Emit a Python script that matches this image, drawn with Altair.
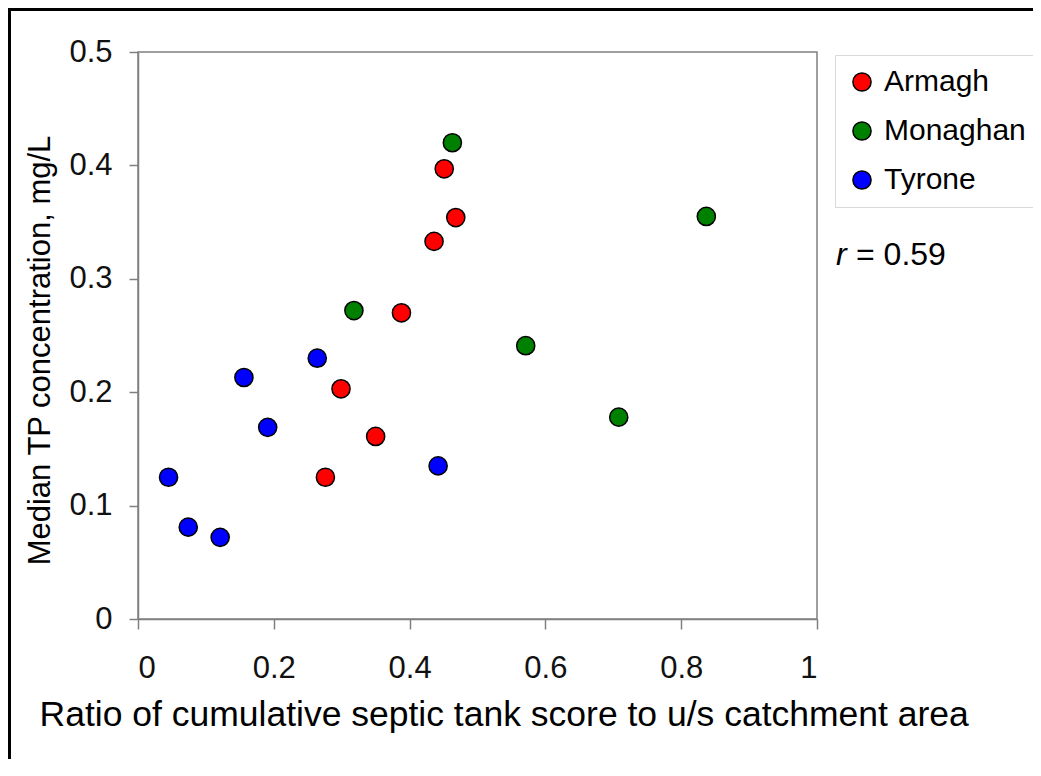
import altair as alt
import pandas as pd

# Data
armagh_x = [0.451, 0.468, 0.436, 0.388, 0.299, 0.350, 0.276]
armagh_y = [0.397, 0.354, 0.333, 0.270, 0.203, 0.161, 0.125]
monaghan_x = [0.463, 0.837, 0.318, 0.571, 0.708]
monaghan_y = [0.420, 0.355, 0.272, 0.241, 0.178]
tyrone_x = [0.264, 0.156, 0.191, 0.442, 0.045, 0.074, 0.121]
tyrone_y = [0.230, 0.213, 0.169, 0.135, 0.125, 0.081, 0.072]

groups = ["Armagh", "Monaghan", "Tyrone"]
colors = ["#FF0000", "#008000", "#0000FF"]
x_ticks = [0, 0.2, 0.4, 0.6, 0.8, 1]
y_ticks = [0, 0.1, 0.2, 0.3, 0.4, 0.5]
r_text = "0.59"

rows = []
for name, xs, ys in [("Armagh", armagh_x, armagh_y),
                     ("Monaghan", monaghan_x, monaghan_y),
                     ("Tyrone", tyrone_x, tyrone_y)]:
    for xv, yv in zip(xs, ys):
        rows.append({"group": name, "ratio": xv, "tp": yv})
df = pd.DataFrame(rows)

FONT = "Liberation Sans"
W, H = 679, 567

points = alt.Chart(df).mark_circle(
    size=330, opacity=1, stroke="black", strokeWidth=1.5
).encode(
    x=alt.X("ratio:Q",
            scale=alt.Scale(domain=[0, 1], nice=False, zero=False),
            axis=alt.Axis(values=x_ticks, format="~g", grid=False,
                          title="Ratio of cumulative septic tank score to u/s catchment area",
                          titleX=-99, titleY=106, titleAlign="left",
                          titleBaseline="alphabetic", titleAnchor="start",
                          titleFontSize=35.5,
                          tickSize=10, labelPadding=24)),
    y=alt.Y("tp:Q",
            scale=alt.Scale(domain=[0, 0.5], nice=False),
            axis=alt.Axis(values=y_ticks, format="~g", grid=False,
                          title="Median TP concentration, mg/L",
                          titleX=-89, titleY=298, titleAlign="center",
                          titleBaseline="alphabetic", titleAngle=-90,
                          titleFontSize=31,
                          tickSize=9, labelPadding=17)),
    color=alt.Color("group:N",
                    scale=alt.Scale(domain=groups, range=colors),
                    legend=alt.Legend(title=None, orient="none",
                                      legendX=697, legendY=3,
                                      strokeColor="#d9d9d9", padding=12,
                                      labelFontSize=30, labelFont=FONT,
                                      labelColor="black",
                                      symbolType="circle", symbolSize=330,
                                      symbolStrokeColor="black",
                                      symbolStrokeWidth=1.5,
                                      symbolOpacity=1,
                                      rowPadding=19, labelOffset=7)),
)

r_italic = alt.Chart(pd.DataFrame({"t": ["r"]})).mark_text(
    font=FONT, fontSize=32, fontStyle="italic", align="left",
    baseline="middle", color="black"
).encode(text="t:N", x=alt.value(698), y=alt.value(203))

r_value = alt.Chart(pd.DataFrame({"t": ["= " + r_text]})).mark_text(
    font=FONT, fontSize=32, align="left", baseline="middle", color="black"
).encode(text="t:N", x=alt.value(718), y=alt.value(203))

frame_left = alt.Chart(pd.DataFrame({"a": [0]})).mark_rule(
    color="black", strokeWidth=3
).encode(x=alt.value(-128.5), y=alt.value(-44), y2=alt.value(740))

frame_top = alt.Chart(pd.DataFrame({"a": [0]})).mark_rule(
    color="black", strokeWidth=3
).encode(x=alt.value(-130), x2=alt.value(920), y=alt.value(-42.5))

chart = alt.layer(points, r_italic, r_value, frame_left, frame_top).properties(
    width=W, height=H,
    autosize=alt.AutoSizeParams(type="none"),
    padding={"left": 130, "top": 44, "right": 1025 - 130 - W,
             "bottom": 140},
    background="white",
).configure_view(
    stroke="#808080", strokeWidth=1.5
).configure_axis(
    domainColor="#808080", domainWidth=1.5,
    tickColor="#808080", tickWidth=1.5,
    labelFont=FONT, labelFontSize=31, labelColor="#111111",
    titleFont=FONT, titleColor="black", titleFontWeight="normal",
)
chart.save("out.html", embed_options={"renderer": "svg", "actions": False})
